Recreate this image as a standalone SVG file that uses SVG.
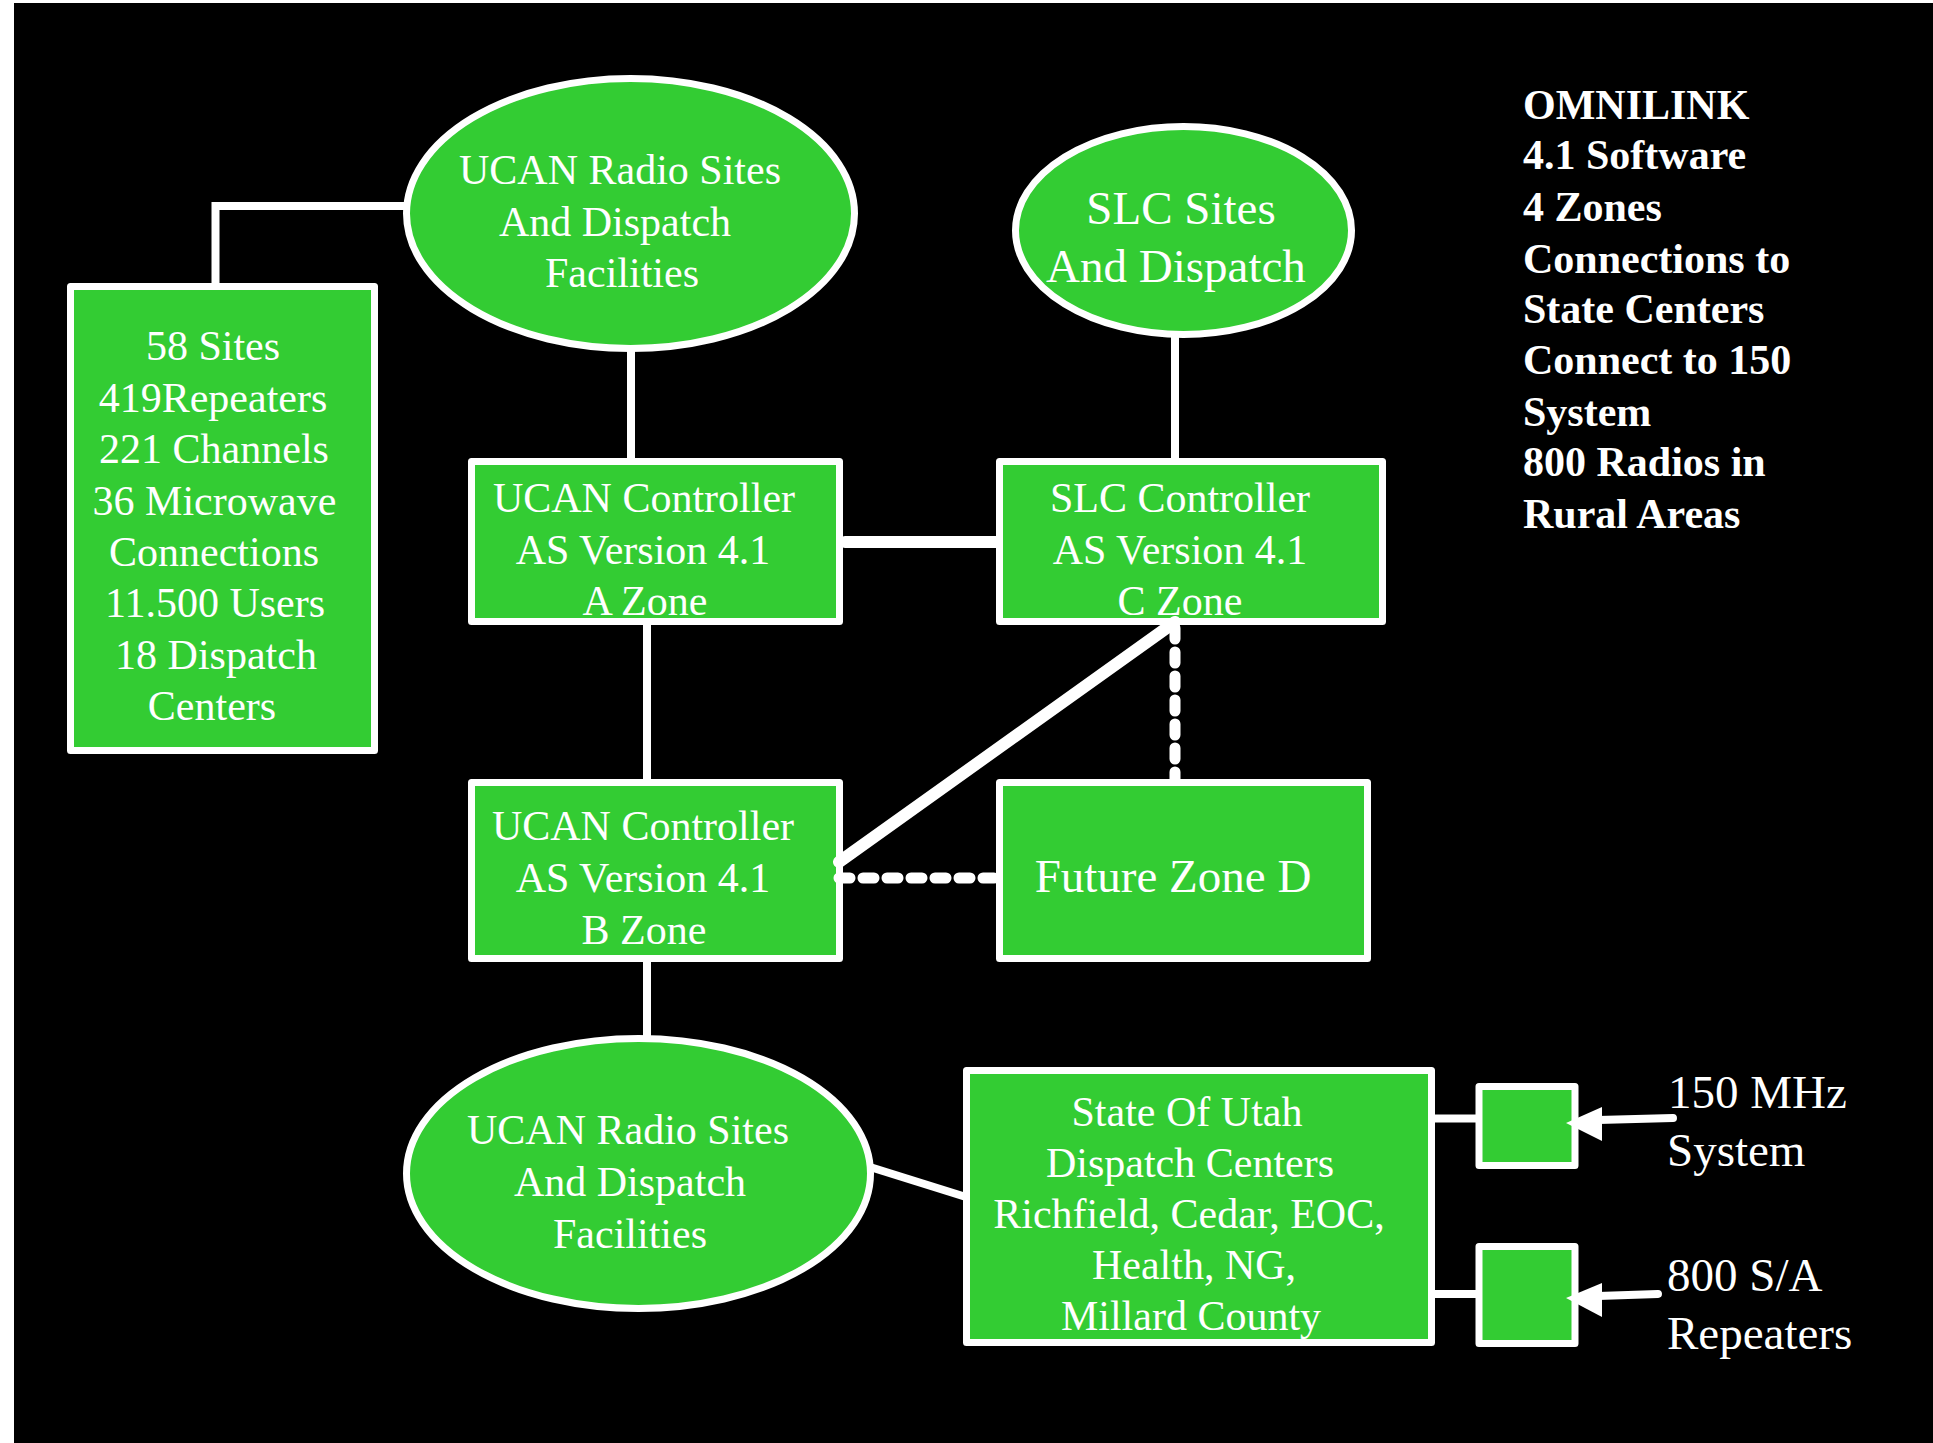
<svg xmlns="http://www.w3.org/2000/svg" width="1933" height="1443" viewBox="0 0 1933 1443">
<style>
.node{fill:#33CC33;stroke:#FFFFFF;stroke-width:7;stroke-linejoin:round}
.t{font-family:"Liberation Serif","Times New Roman",serif;font-size:42px;fill:#FFFFFF;text-anchor:middle}
.big{font-size:47px}
.l{text-anchor:start}
.b{font-weight:bold;text-anchor:start}
.c{fill:none;stroke:#FFFFFF;stroke-width:8}
.thick{stroke-width:12;stroke-linecap:round}
.dash{stroke-width:11;stroke-linecap:round;stroke-dasharray:11 13}
</style>
<rect x="0" y="0" width="1933" height="1443" fill="#FFFFFF"/>
<rect x="14" y="3" width="1919" height="1440" fill="#000000"/>

<g id="stats">
<rect class="node" x="70.5" y="286.5" width="304" height="464"/>
<text class="t" x="213" y="360">58 Sites</text>
<text class="t" x="213" y="412">419Repeaters</text>
<text class="t" x="214" y="463">221 Channels</text>
<text class="t" x="214.5" y="515">36 Microwave</text>
<text class="t" x="214" y="566">Connections</text>
<text class="t" x="215" y="617">11.500 Users</text>
<text class="t" x="216" y="669">18 Dispatch</text>
<text class="t" x="212" y="720">Centers</text>
</g>

<g id="ucan-sites-top">
<ellipse class="node" cx="630.5" cy="213.5" rx="224" ry="135"/>
<text class="t" x="620" y="184">UCAN Radio Sites</text>
<text class="t" x="615" y="236">And Dispatch</text>
<text class="t" x="622" y="287">Facilities</text>
</g>

<g id="slc-sites">
<ellipse class="node" cx="1183.5" cy="230.5" rx="168" ry="104"/>
<text class="t big" x="1181" y="224">SLC Sites</text>
<text class="t big" x="1176" y="282">And Dispatch</text>
</g>

<g id="zone-a">
<rect class="node" x="471.5" y="461.5" width="368" height="160"/>
<text class="t" x="644" y="512">UCAN Controller</text>
<text class="t" x="643" y="564">AS Version 4.1</text>
<text class="t" x="645" y="615">A Zone</text>
</g>

<g id="zone-c">
<rect class="node" x="999.5" y="461.5" width="383" height="160"/>
<text class="t" x="1180" y="512">SLC Controller</text>
<text class="t" x="1180" y="564">AS Version 4.1</text>
<text class="t" x="1180" y="615">C Zone</text>
</g>

<g id="zone-b">
<rect class="node" x="471.5" y="782.5" width="368" height="176"/>
<text class="t" x="643" y="840">UCAN Controller</text>
<text class="t" x="643" y="892">AS Version 4.1</text>
<text class="t" x="644" y="944">B Zone</text>
</g>

<g id="zone-d">
<rect class="node" x="999.5" y="782.5" width="368" height="176"/>
<text class="t big" x="1173" y="892">Future Zone D</text>
</g>

<g id="ucan-sites-bottom">
<ellipse class="node" cx="638.5" cy="1173.5" rx="232" ry="135"/>
<text class="t" x="628" y="1144">UCAN Radio Sites</text>
<text class="t" x="630" y="1196">And Dispatch</text>
<text class="t" x="630" y="1248">Facilities</text>
</g>

<g id="state-centers">
<rect class="node" x="966.5" y="1070.5" width="465" height="272"/>
<text class="t" x="1187" y="1126">State Of Utah</text>
<text class="t" x="1190" y="1177">Dispatch Centers</text>
<text class="t" x="1189" y="1228">Richfield, Cedar, EOC,</text>
<text class="t" x="1194" y="1279">Health, NG,</text>
<text class="t" x="1191" y="1330">Millard County</text>
</g>

<g id="link-150">
<rect class="node" x="1479" y="1086.5" width="96" height="79"/>
</g>
<g id="link-800">
<rect class="node" x="1479" y="1246.5" width="96" height="97"/>
</g>

<g id="connectors">
<polyline class="c" points="215.5,287 215.5,206 406,206"/>
<line class="c" x1="631" y1="348" x2="631" y2="462"/>
<line class="c" x1="1175" y1="334" x2="1175" y2="462"/>
<line class="c thick" x1="845" y1="542" x2="996" y2="542"/>
<line class="c" x1="647" y1="622" x2="647" y2="783" stroke-width="10"/>
<line class="c thick" x1="839" y1="862" x2="1175" y2="622"/>
<line class="c dash" x1="839" y1="878" x2="996" y2="878"/>
<line class="c dash" x1="1175" y1="628" x2="1175" y2="779"/>
<line class="c" x1="647" y1="959" x2="647" y2="1039"/>
<line class="c" x1="870" y1="1167" x2="966" y2="1197"/>
<line class="c" x1="1432" y1="1118.5" x2="1479" y2="1118.5"/>
<line class="c" x1="1432" y1="1294" x2="1479" y2="1294"/>
<line class="c" x1="1673" y1="1118" x2="1598" y2="1120" stroke-linecap="round" stroke-width="9"/>
<polygon points="1566,1123 1602,1107 1602,1141" fill="#FFFFFF"/>
<line class="c" x1="1658" y1="1294" x2="1598" y2="1296" stroke-linecap="round" stroke-width="9"/>
<polygon points="1566,1298 1602,1283 1602,1317" fill="#FFFFFF"/>
</g>

<g id="labels">
<text class="t big l" x="1668" y="1108">150 MHz</text>
<text class="t big l" x="1667" y="1166">System</text>
<text class="t big l" x="1667" y="1291">800 S/A</text>
<text class="t big l" x="1667" y="1349">Repeaters</text>
</g>

<g id="notes">
<text class="t b" x="1523" y="119">OMNILINK</text>
<text class="t b" x="1523" y="169">4.1 Software</text>
<text class="t b" x="1523" y="221">4 Zones</text>
<text class="t b" x="1523" y="273">Connections to</text>
<text class="t b" x="1523" y="323">State Centers</text>
<text class="t b" x="1523" y="374">Connect to 150</text>
<text class="t b" x="1523" y="426">System</text>
<text class="t b" x="1523" y="476">800 Radios in</text>
<text class="t b" x="1523" y="528">Rural Areas</text>
</g>
</svg>
